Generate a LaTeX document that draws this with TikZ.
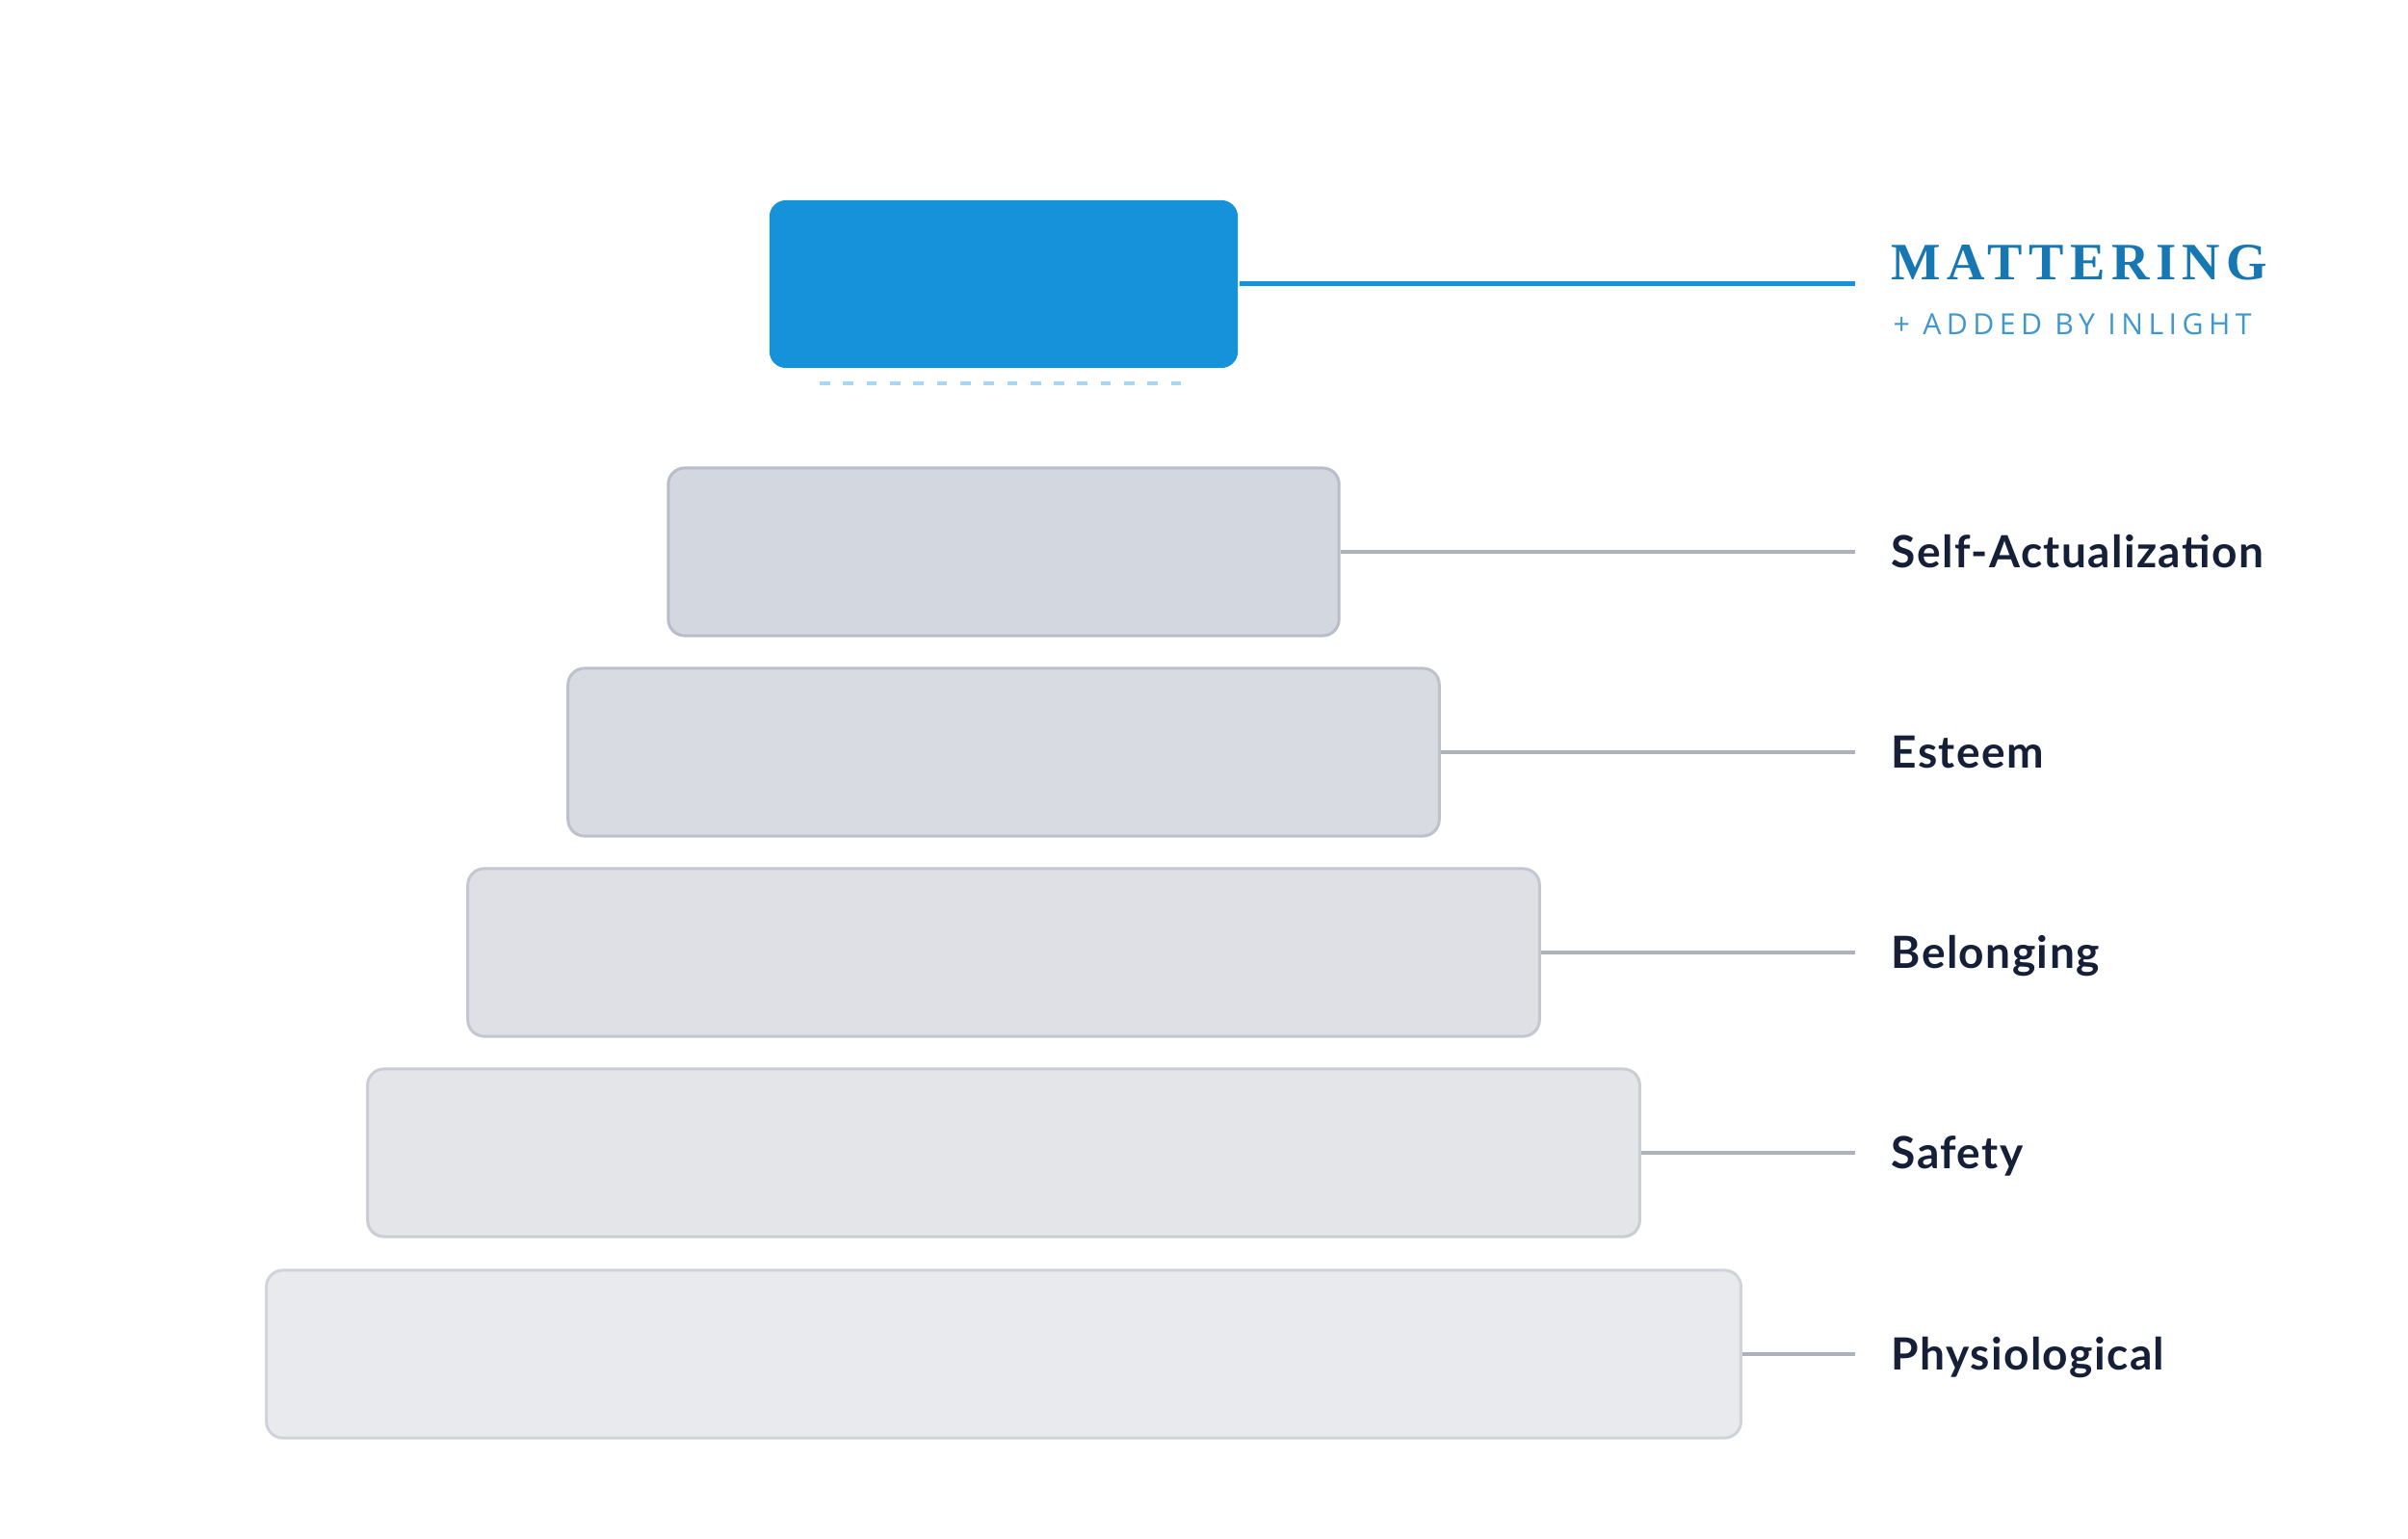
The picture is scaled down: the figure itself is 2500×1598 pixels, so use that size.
\documentclass[tikz,border=0pt]{standalone}
\usepackage{fontspec}
\newfontfamily\labelfont{Lato}[LetterSpace=3]
\newfontfamily\titlefont{Liberation Serif}[LetterSpace=12]
\newfontfamily\subfont{Open Sans}[LetterSpace=18]
\definecolor{blueA}{HTML}{1592DA}
\definecolor{blueDash}{HTML}{A9D6F2}
\definecolor{titleBlue}{HTML}{1677B3}
\definecolor{subBlue}{HTML}{3F98CD}
\definecolor{navy}{HTML}{151F38}
\definecolor{connGray}{HTML}{ACB1BC}
\definecolor{fillA}{HTML}{D3D7DF}\definecolor{drawA}{HTML}{B8BDC8}
\definecolor{fillB}{HTML}{D8DBE2}\definecolor{drawB}{HTML}{BDC1CB}
\definecolor{fillC}{HTML}{DEE0E6}\definecolor{drawC}{HTML}{C4C7D0}
\definecolor{fillD}{HTML}{E3E5E9}\definecolor{drawD}{HTML}{CACDD4}
\definecolor{fillE}{HTML}{E9EAEE}\definecolor{drawE}{HTML}{D0D3DA}
\tikzset{
  tier/.style={rectangle, rounded corners=0.17cm, inner sep=0pt, line width=0.03cm, minimum height=1.74cm},
  conn/.style={connGray, line width=0.035cm},
  lab/.style={anchor=base west, inner sep=0pt, text=navy, font=\labelfont\bfseries\fontsize{13.1}{15}\selectfont},
}
\begin{document}
\begin{tikzpicture}[x=0.01cm,y=-0.01cm]
\useasboundingbox (0,0) rectangle (2500,1598);
\fill[white] (0,0) rectangle (2500,1598);
% top blue tier
\node[tier, fill=blueA, minimum width=4.86cm, minimum height=1.74cm] (m) at (1042,295) {};
\coordinate (me) at (1926,295);
\draw[blueA, line width=0.05cm] (m.east) -- (me);
\coordinate (d1) at (851,398);
\coordinate (d2) at (1226,398);
\draw[blueDash, line width=0.035cm, dash pattern=on 0.107cm off 0.136cm] (d1) -- (d2);
\node[anchor=base west, inner sep=0pt, text=titleBlue, font=\titlefont\bfseries\fontsize{15.5}{18}\selectfont] (mt) at (1963,291) {MATTERING};
\node[anchor=base west, inner sep=0pt, text=subBlue, font=\subfont\fontsize{8.6}{10}\selectfont] (ms) at (1965,348) {+ ADDED BY INLIGHT};
% gray tiers
\node[tier, fill=fillA, draw=drawA, minimum width=6.96cm] (t1) at (1042,573) {};
\node[tier, fill=fillB, draw=drawB, minimum width=9.04cm] (t2) at (1042,781) {};
\node[tier, fill=fillC, draw=drawC, minimum width=11.12cm] (t3) at (1042,989) {};
\node[tier, fill=fillD, draw=drawD, minimum width=13.20cm] (t4) at (1042,1197) {};
\node[tier, fill=fillE, draw=drawE, minimum width=15.30cm] (t5) at (1042,1406) {};
\coordinate (e1) at (1926,573);
\coordinate (e2) at (1926,781);
\coordinate (e3) at (1926,989);
\coordinate (e4) at (1926,1197);
\coordinate (e5) at (1926,1406);
\draw[conn] (t1.east) -- (e1);
\draw[conn] (t2.east) -- (e2);
\draw[conn] (t3.east) -- (e3);
\draw[conn] (t4.east) -- (e4);
\draw[conn] (t5.east) -- (e5);
\node[lab] (l1) at (1963,589.5) {Self-Actualization};
\node[lab] (l2) at (1963,797.5) {Esteem};
\node[lab] (l3) at (1963,1005.5) {Belonging};
\node[lab] (l4) at (1963,1213.5) {Safety};
\node[lab] (l5) at (1963,1422.5) {Physiological};
\end{tikzpicture}
\end{document}
